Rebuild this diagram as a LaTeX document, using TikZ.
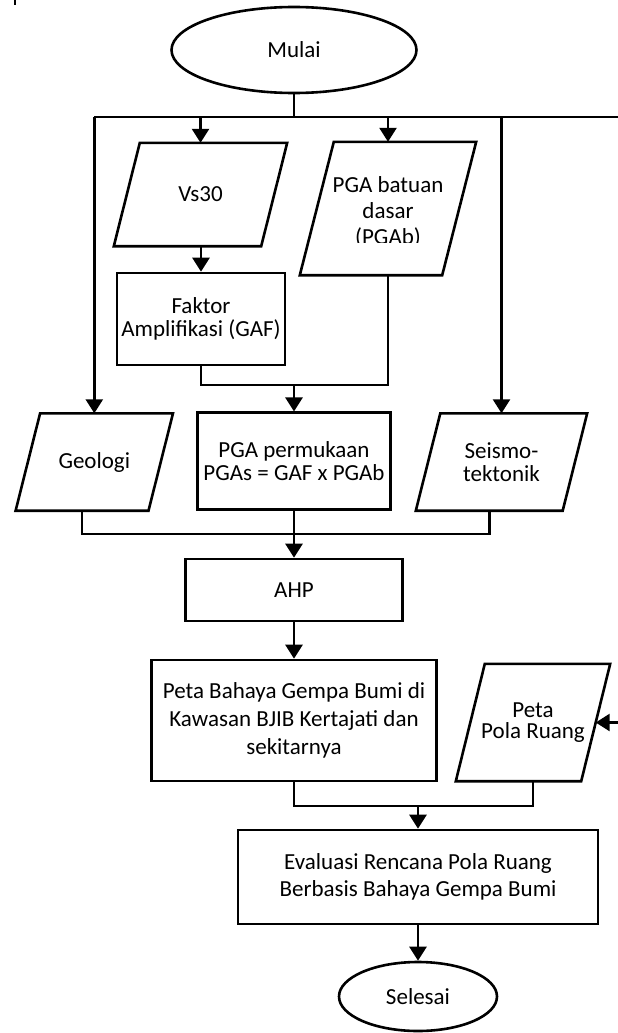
\documentclass[tikz,border=0pt]{standalone}
\usepackage{fontspec}
\setmainfont{Carlito}
\usetikzlibrary{shapes, arrows.meta, calc}

\tikzset{
	proc/.style={draw, rectangle, line width=2.6pt, inner sep=0pt, align=center},
	data/.style={rectangle, inner sep=0pt, align=center},
	term/.style={draw, ellipse, line width=2.6pt, inner sep=0pt},
	link/.style={line width=2.6pt, line join=miter},
	flow/.style={line width=2.6pt, -{Triangle[length=14pt, width=17pt]}},
}

% outline of a data node: #1 node name, #2 slant
\newcommand{\slantbox}[2]{
	\draw[link] (#1.south west) -- ($(#1.north west)+(#2,0)$) -- (#1.north east) 
		-- ($(#1.south east)-(#2,0)$) -- cycle;
}

\begin{document}
\begin{tikzpicture}[x=1pt, y=-1pt, font=\fontsize{23}{23.5}\selectfont]
	\useasboundingbox (0,0) rectangle (618,1033);
	\draw[line width=2pt] (15,0) -- (15,5);

	\node[term, minimum width=245pt, minimum height=86pt] (mulai) at (294,50) {Mulai};

	\node[data, minimum width=173pt, minimum height=103pt] (vs30) at (200.5,194.5) 
		{Vs30};
	\slantbox{vs30}{26}
	\node[proc, minimum width=168pt, minimum height=92pt] (gaf) at (201,319) 
		{Faktor\\Amplifikasi (GAF)};
	\node[data, minimum width=176pt, minimum height=133pt] (pgab) at (388,208.5) {};
	\slantbox{pgab}{34}
	\begin{scope}
		\clip (300,140) rectangle (480,242);
		\node[align=center, font=\fontsize{23}{25.8}\selectfont] (pgabtext) at (388,212) 
			{PGA batuan\\dasar\\(PGAb)};
	\end{scope}

	\node[data, minimum width=157pt, minimum height=97pt] (geo) at (94.3,462) 
		{Geologi};
	\slantbox{geo}{24.5}
	\node[proc, minimum width=193pt, minimum height=96.5pt] (pgas) at (294,461) 
		{PGA permukaan\\PGAs = GAF x PGAb};
	\node[data, minimum width=171pt, minimum height=97pt] (seis) at (501.5,462) 
		{Seismo-\\tektonik};
	\slantbox{seis}{24.5}

	\node[proc, minimum width=217pt, minimum height=62pt] (ahp) at (294,590) {AHP};

	\node[proc, minimum width=285pt, minimum height=121pt, 
		font=\fontsize{23}{28.3}\selectfont] (bahaya) at (294,720.5)
		{Peta Bahaya Gempa Bumi di\\Kawasan BJIB Kertajati dan\\sekitarnya};
	\node[data, minimum width=154pt, minimum height=117pt, 
		font=\fontsize{23}{21.7}\selectfont] (pola) at (533,722.5)
		{Peta\\Pola Ruang};
	\slantbox{pola}{29}

	\node[proc, minimum width=360pt, minimum height=94pt, 
		font=\fontsize{23}{26.7}\selectfont] (evaluasi) at (418,877)
		{Evaluasi Rencana Pola Ruang\\Berbasis Bahaya Gempa Bumi};
	\node[term, minimum width=158pt, minimum height=69pt] (selesai) at (418,996.5) 
		{Selesai};

	\coordinate (top) at (294,117);
	\coordinate (edge) at (618,117);
	\coordinate (join1) at (294,385);
	\coordinate (join2) at (294,534);
	\coordinate (join3) at (418,806);
	\coordinate (geobot) at ($(geo.south)-(12.25,0)$);
	\coordinate (seisbot) at ($(seis.south)-(12.25,0)$);
	\coordinate (polaside) at ($(pola.east)-(14.5,0)$);

	\draw[link] (mulai.south) -- (top);
	\draw[link] (geo.north |- top) -- (edge);
	\draw[flow] (geo.north |- top) -- (geo.north);
	\draw[flow] (vs30.north |- top) -- (vs30.north);
	\draw[flow] (pgab.north |- top) -- (pgab.north);
	\draw[flow] (seis.north |- top) -- (seis.north);
	\draw[flow] (gaf.north |- vs30.south) -- (gaf.north);
	\draw[link] (gaf.south) -- (gaf.south |- join1) -- (pgab.south |- join1) -- (pgab.south);
	\draw[flow] (join1) -- (pgas.north);
	\draw[link] (geobot) -- (geobot |- join2) -- (seisbot |- join2) -- (seisbot);
	\draw[flow] (pgas.south) -- (ahp.north);
	\draw[flow] (ahp.south) -- (bahaya.north);
	\draw[link] (bahaya.south) -- (bahaya.south |- join3) -- (pola.south |- join3) -- (pola.south);
	\draw[flow] (join3) -- (evaluasi.north);
	\draw[flow] (polaside -| edge) -- (polaside);
	\draw[flow] (evaluasi.south) -- (selesai.north);
\end{tikzpicture}
\end{document}
